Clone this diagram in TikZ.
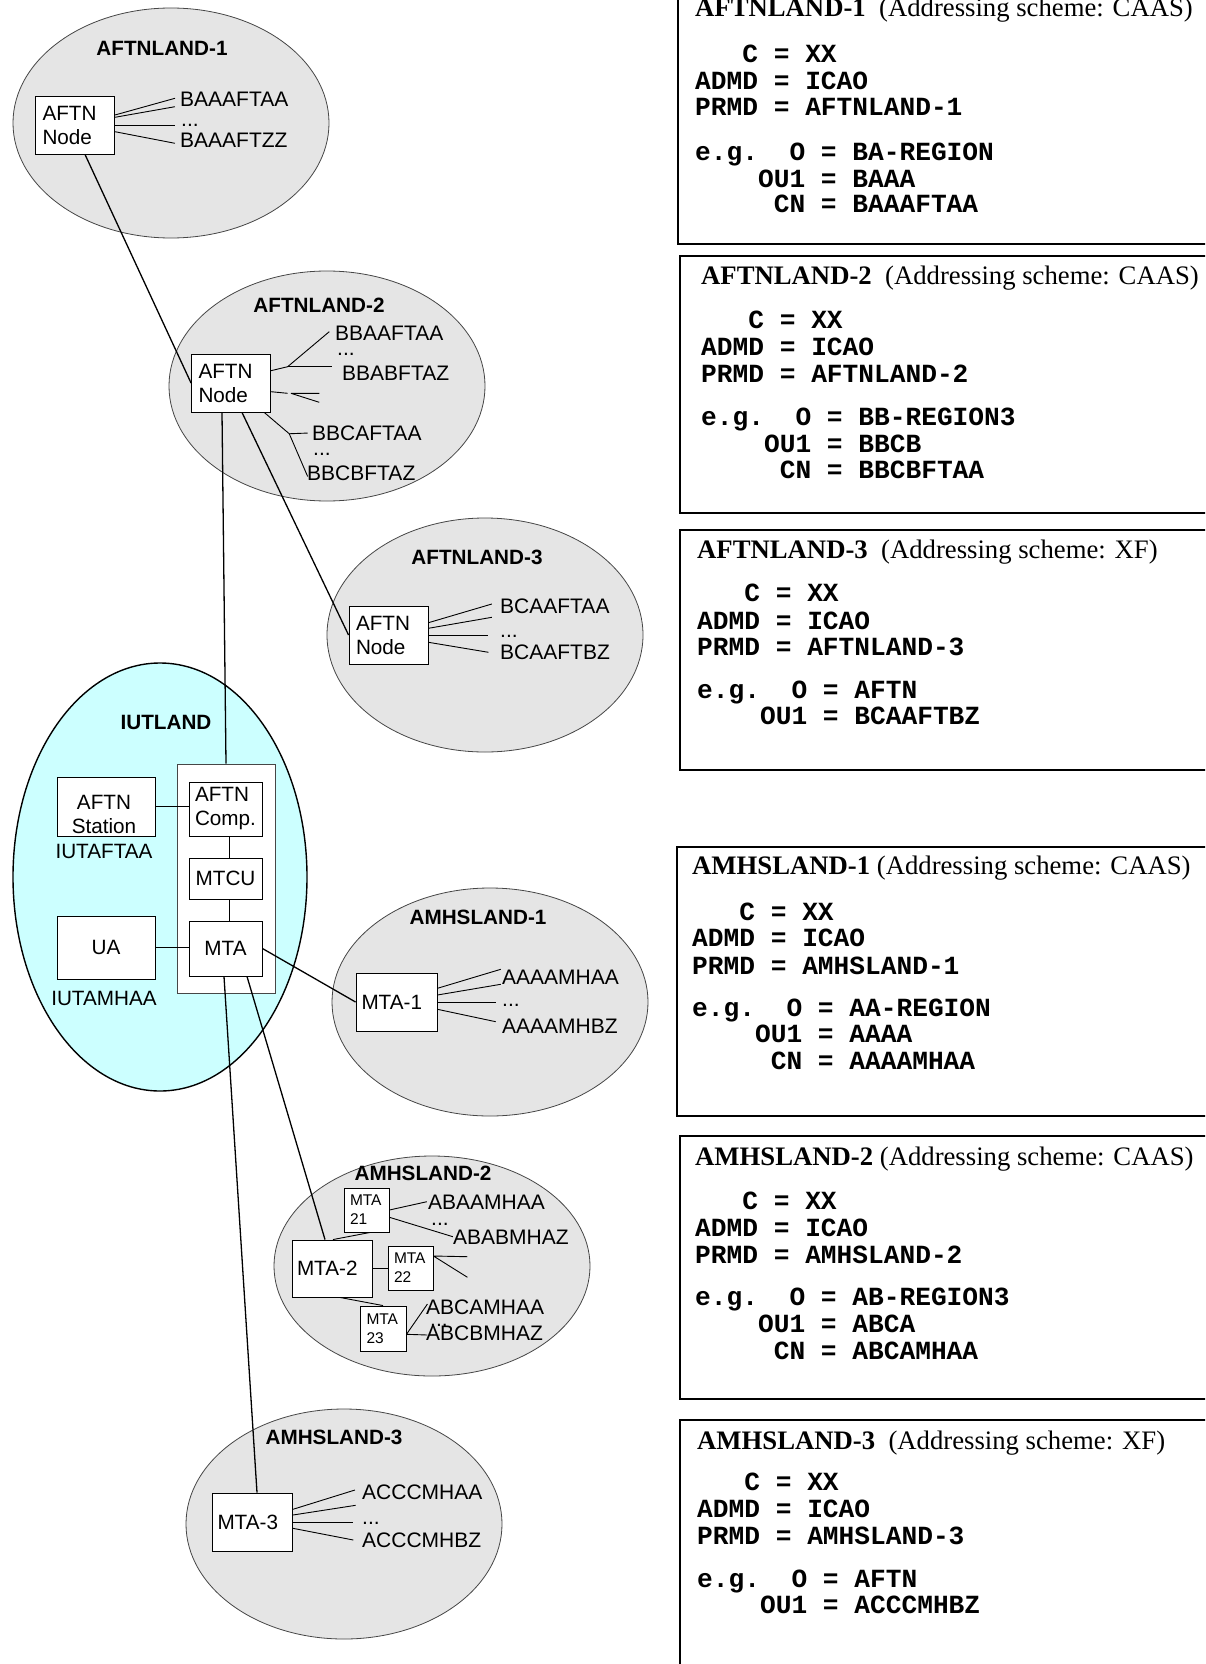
\documentclass[tikz,border=0pt]{standalone}
\usepackage{fontspec}
\setmainfont{Liberation Serif}
\setsansfont{Liberation Sans}
\newfontfamily\monofam{Liberation Mono}
\usetikzlibrary{shapes.geometric}

\definecolor{landgray}{RGB}{229,229,229}
\definecolor{iutcyan}{RGB}{204,255,255}
\definecolor{rimgray}{RGB}{70,70,70}

% one line of an address block: name, x, baseline y, text
\newcommand\addrline[4]{\node[mono] (#1) at (#2,#3) {#4};}

\begin{document}
\begin{tikzpicture}[x=1pt,y=-1pt,
  land/.style={ellipse, draw=rimgray, line width=0.8pt, fill=landgray, inner sep=0pt,
    minimum width=316pt, minimum height=230pt},
  iut/.style={ellipse, draw=black, line width=1.4pt, fill=iutcyan, inner sep=0pt},
  box/.style={rectangle, draw=black, line width=0.9pt, fill=white, inner sep=0pt,
    font=\sffamily\fontsize{20.7}{24}\selectfont, align=center},
  nbox/.style={box, align=left, text width=65pt, inner xsep=7pt,
    minimum width=79pt, minimum height=58pt},
  mbox/.style={box, align=left, text width=70pt, inner xsep=5pt,
    minimum width=80pt, minimum height=58pt},
  sbox/.style={box, align=left, text width=33pt, inner xsep=6pt,
    minimum width=45pt, minimum height=44pt,
    font=\sffamily\fontsize{15.5}{19}\selectfont},
  landname/.style={font=\sffamily\bfseries\fontsize{20.7}{24}\selectfont, inner sep=0pt},
  plain/.style={font=\sffamily\fontsize{20.7}{24}\selectfont, inner sep=0pt, align=center},
  addr/.style={font=\sffamily\fontsize{21}{24}\selectfont, inner sep=0pt, anchor=west},
  dots/.style={addr, anchor=base west},
  link/.style={line width=1.3pt},
  fan/.style={line width=0.9pt},
  frame/.style={draw=black, line width=1.8pt},
  head/.style={font=\rmfamily\fontsize{26.7}{30}\selectfont, inner sep=0pt, anchor=base west},
  mono/.style={font=\monofam\bfseries\fontsize{26.2}{28}\selectfont, inner sep=0pt, anchor=base west},
]
\clip (0,0) rectangle (1205,1664);
\fill[white] (0,0) rectangle (1205,1664);

% ---------------- regions ----------------
\node[land] (L1) at (171,123) {};
\node[land] (L2) at (327,386) {};
\node[land, minimum height=234pt] (L3) at (485,635) {};
\node[land, minimum height=228pt] (L4) at (490,1002) {};
\node[land, minimum height=220pt] (L5) at (432,1266) {};
\node[land] (L6) at (344,1524) {};
\node[iut, minimum width=294pt, minimum height=428pt] (IUT) at (160,877) {};

\node[landname] (L1n) at (162,48) {AFTNLAND-1};
\node[landname] (L2n) at (319,305) {AFTNLAND-2};
\node[landname] (L3n) at (477,557) {AFTNLAND-3};
\node[landname] (IUTn) at (166,722) {IUTLAND};
\node[landname] (L4n) at (478,917) {AMHSLAND-1};
\node[landname] (L5n) at (423,1173) {AMHSLAND-2};
\node[landname] (L6n) at (334,1437) {AMHSLAND-3};

% ---------------- AFTN nodes ----------------
\node[nbox] (N1) at (75,125) {AFTN\\Node};
\node[nbox] (N2) at (231,383) {AFTN\\Node};
\node[nbox] (N3) at (388.5,635) {AFTN\\Node};

% ---------------- IUTLAND ----------------
\node[rectangle, draw=rimgray, line width=0.9pt, fill=white, inner sep=0pt,
      minimum width=98pt, minimum height=229pt] (OUT) at (226,878.5) {};
\node[box, align=left, minimum width=73pt, minimum height=54pt] (COMP) at (225.5,809) {AFTN\\Comp.};
\node[box, minimum width=73pt, minimum height=41pt] (MTCU) at (225.5,878.5) {MTCU};
\node[box, minimum width=73pt, minimum height=55pt] (MTA) at (225.5,948.5) {MTA};
\node[box, minimum width=98pt, minimum height=59pt] (STN) at (106,806.5) {};
\node[plain] (STNt) at (104,814) {AFTN\\Station};
\node[box, minimum width=98pt, minimum height=63pt] (UA) at (106,947.5) {UA};
\node[plain] (UAFT) at (104,851) {IUTAFTAA};
\node[plain] (UAMH) at (104,998) {IUTAMHAA};

% ---------------- MTAs ----------------
\node[mbox, minimum width=81pt] (M1) at (396.5,1002) {MTA-1};
\node[mbox, minimum height=57pt] (M2) at (332,1268.5) {MTA-2};
\node[mbox, minimum width=79pt] (M3) at (252.5,1522) {MTA-3};
\node[sbox] (M21) at (366.5,1210) {MTA\\21};
\node[sbox] (M22) at (410.5,1268) {MTA\\22};
\node[sbox, minimum width=46pt, minimum height=45pt] (M23) at (383,1328.5) {MTA\\23};

% ---------------- address ranges ----------------
\node[addr] (a1t) at (180,99) {BAAAFTAA};
\node[dots] (a1d) at (181,127) {...};
\node[addr] (a1b) at (180,140) {BAAAFTZZ};

\node[addr] (a2t) at (335,333) {BBAAFTAA};
\node[dots] (a2d) at (337,355) {...};
\node[addr] (a2b) at (342,373) {BBABFTAZ};
\node[addr] (a2u) at (312,433) {BBCAFTAA};
\node[dots] (a2e) at (313,455) {...};
\node[addr] (a2v) at (307,473) {BBCBFTAZ};

\node[addr] (a3t) at (500,606) {BCAAFTAA};
\node[dots] (a3d) at (500,637) {...};
\node[addr] (a3b) at (500,652) {BCAAFTBZ};

\node[addr] (m1t) at (502,977) {AAAAMHAA};
\node[dots] (m1d) at (502,1006) {...};
\node[addr] (m1b) at (502,1026) {AAAAMHBZ};

\node[addr] (m21t) at (428,1202) {ABAAMHAA};
\node[dots] (m21d) at (431,1225) {...};
\node[addr] (m21b) at (453,1237) {ABABMHAZ};
\node[addr] (m23t) at (426,1307) {ABCAMHAA};
\node[dots] (m23d) at (430,1326) {...};
\node[addr] (m23b) at (426,1333) {ABCBMHAZ};

\node[addr] (m3t) at (362,1492) {ACCCMHAA};
\node[dots] (m3d) at (362,1524) {...};
\node[addr] (m3b) at (362,1540) {ACCCMHBZ};

% ---------------- fans towards the addresses ----------------
\draw[fan] (N1.east) ++(0,-10) -- ++(60,-16.7);
\draw[fan] (N1.east) ++(0,-7.7) -- ++(60,-10.6);
\draw[fan] (N1.east) -- ++(60,0);
\draw[fan] (N1.east) ++(0,6.7) -- ++(60,11.6);

\draw[fan] (N2.east) ++(0,-12.3) -- ++(16.7,-4) coordinate (n2a) -- ++(41.6,-35);
\draw[fan] (n2a) -- ++(44,0);
\draw[fan] (N2.east) ++(0,8.7) -- ++(16.7,1.6) coordinate (n2b);
\draw[fan] (n2b) ++(3.3,0) coordinate (n2c) -- ++(28.3,0) (n2c) -- ++(28.3,9);
\draw[fan] ([xshift=-6.7pt]N2.south east) -- ++(25,21.3) coordinate (n2d) -- ++(18.4,-0.7);
\draw[fan] (n2d) -- ++(18.4,42.7);

\draw[fan] (N3.east) ++(0,-12.3) -- ++(63.4,-18.7);
\draw[fan] (N3.east) ++(0,-6.7) -- ++(63.4,-11);
\draw[fan] (N3.east) -- ++(60,0);
\draw[fan] (N3.east) ++(0,7.3) -- ++(60,10);

\draw[fan] (M1.east) ++(0,-13.7) -- ++(63.3,-19);
\draw[fan] (M1.east) ++(0,-7) -- ++(63.3,-10.7);
\draw[fan] (M1.east) -- ++(58.3,0);
\draw[fan] (M1.east) ++(0,7.3) -- ++(58.3,12.4);

\draw[fan] (M3.east) ++(0,-12.7) -- ++(62,-19.3);
\draw[fan] (M3.east) ++(0,-7) -- ++(62.7,-9.7);
\draw[fan] (M3.east) -- ++(60.4,0);
\draw[fan] (M3.east) ++(0,6.3) -- ++(60.4,11.7);

\draw[fan] (M21.east) -- ++(37.4,-8.3);
\draw[fan] (M21.east) ++(0,7.3) -- ++(63.4,19.4);
\draw[fan] (M22.east) ++(0,-12) coordinate (m22a) -- ++(34,0.7) (m22a) -- ++(34,21.3);
\draw[fan] (M23.east) ++(0,5.8) coordinate (m23a) -- ++(21,-30.3) (m23a) -- ++(21,0.7);

% ---------------- links ----------------
\draw[link] ([xshift=10pt]N1.south) -- (N2.west);
\draw[link] ([xshift=-9pt]N2.south) -- (OUT.north);
\draw[link] ([xshift=11pt]N2.south) -- (N3.west);
\draw[link] (STN.east) -- (STN.east -| COMP.west);
\draw[link] (UA.east) -- (UA.east -| MTA.west);
\draw[fan] ([xshift=3.5pt]COMP.south) -- ([xshift=3.5pt]MTCU.north);
\draw[fan] ([xshift=3.5pt]MTCU.south) -- ([xshift=3.5pt]MTA.north);
\draw[link] (MTA.east) -- (M1.west);
\draw[link] ([xshift=-1.5pt]MTA.south) -- ([xshift=4.5pt]M3.north);
\draw[link] ([xshift=21.5pt]MTA.south) -- ([xshift=-7pt]M2.north);
\draw[fan] ([xshift=1pt]M2.north) -- ([xshift=3.5pt]M21.south);
\draw[fan] (M2.east) -- (M2.east -| M22.west);
\draw[fan] ([xshift=8pt]M2.south) -- (M23.north);

% ---------------- address blocks ----------------
\draw[frame] (678,-20) rectangle (1230,244);
\node[head] (h1) at (695,16.5) {\textbf{AFTNLAND-1}~~(Addressing scheme: CAAS)};
\addrline{b1a}{695}{62.5}{~~~C = XX}
\addrline{b1b}{695}{89.5}{ADMD = ICAO}
\addrline{b1c}{695}{115.5}{PRMD = AFTNLAND-1}
\addrline{b1d}{695}{160.5}{e.g.~~O = BA-REGION}
\addrline{b1e}{695}{187}{~~~~OU1 = BAAA}
\addrline{b1f}{695}{212.5}{~~~~~CN = BAAAFTAA}

\draw[frame] (680,256) rectangle (1230,513);
\node[head] (h2) at (701,284.8) {\textbf{AFTNLAND-2}~~(Addressing scheme: CAAS)};
\addrline{b2a}{701}{328.5}{~~~C = XX}
\addrline{b2b}{701}{355.5}{ADMD = ICAO}
\addrline{b2c}{701}{382}{PRMD = AFTNLAND-2}
\addrline{b2d}{701}{425.5}{e.g.~~O = BB-REGION3}
\addrline{b2e}{701}{452}{~~~~OU1 = BBCB}
\addrline{b2f}{701}{478}{~~~~~CN = BBCBFTAA}

\draw[frame] (680,530) rectangle (1230,770);
\node[head] (h3) at (697,558.8) {\textbf{AFTNLAND-3}~~(Addressing scheme: XF)};
\addrline{b3a}{697}{601.5}{~~~C = XX}
\addrline{b3b}{697}{629}{ADMD = ICAO}
\addrline{b3c}{697}{655.5}{PRMD = AFTNLAND-3}
\addrline{b3d}{697}{698.5}{e.g.~~O = AFTN}
\addrline{b3e}{697}{724.5}{~~~~OU1 = BCAAFTBZ}

\draw[frame] (677,847) rectangle (1230,1116);
\node[head] (h4) at (692,874.5) {\textbf{AMHSLAND-1} (Addressing scheme: CAAS)};
\addrline{b4a}{692}{920.5}{~~~C = XX}
\addrline{b4b}{692}{946.5}{ADMD = ICAO}
\addrline{b4c}{692}{974.5}{PRMD = AMHSLAND-1}
\addrline{b4d}{692}{1016.5}{e.g.~~O = AA-REGION}
\addrline{b4e}{692}{1042.5}{~~~~OU1 = AAAA}
\addrline{b4f}{692}{1069.5}{~~~~~CN = AAAAMHAA}

\draw[frame] (680,1136) rectangle (1230,1399);
\node[head] (h5) at (695,1165.8) {\textbf{AMHSLAND-2} (Addressing scheme: CAAS)};
\addrline{b5a}{695}{1209.5}{~~~C = XX}
\addrline{b5b}{695}{1236}{ADMD = ICAO}
\addrline{b5c}{695}{1263}{PRMD = AMHSLAND-2}
\addrline{b5d}{695}{1305}{e.g.~~O = AB-REGION3}
\addrline{b5e}{695}{1332}{~~~~OU1 = ABCA}
\addrline{b5f}{695}{1359.5}{~~~~~CN = ABCAMHAA}

\draw[frame] (680,1420) rectangle (1230,1700);
\node[head] (h6) at (697,1449.8) {\textbf{AMHSLAND-3}~~(Addressing scheme: XF)};
\addrline{b6a}{697}{1490.5}{~~~C = XX}
\addrline{b6b}{697}{1517}{ADMD = ICAO}
\addrline{b6c}{697}{1544}{PRMD = AMHSLAND-3}
\addrline{b6d}{697}{1587.5}{e.g.~~O = AFTN}
\addrline{b6e}{697}{1613.5}{~~~~OU1 = ACCCMHBZ}
\end{tikzpicture}
\end{document}
